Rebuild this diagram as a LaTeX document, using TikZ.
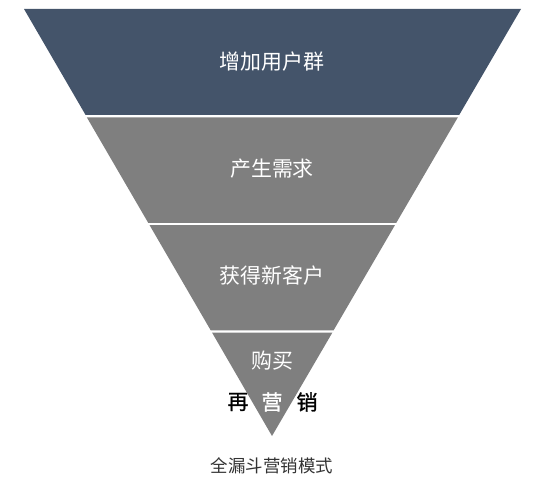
\documentclass[tikz,border=0pt]{standalone}
\usepackage{fontspec}
\newfontfamily\cjk{Noto Sans CJK SC}
\newfontfamily\cjkm{Noto Sans CJK SC}[FakeBold=1.2]
\definecolor{navy}{HTML}{44546A}
\definecolor{funnelgray}{HTML}{7F7F7F}
\definecolor{captiongray}{HTML}{333333}
\begin{document}
\begin{tikzpicture}[x=1bp,y=-1bp,
  band/.style={fill=funnelgray,draw=none},
  bandtext/.style={text=white,font=\cjk\fontsize{21}{25}\selectfont,inner sep=0pt},
  remk/.style={font=\cjkm\fontsize{21}{25}\selectfont,inner sep=0pt},
  caption/.style={text=captiongray,font=\cjk\fontsize{17.5}{20}\selectfont,inner sep=0pt}]
\useasboundingbox (0,0) rectangle (547,486);
% funnel corners
\coordinate (tl) at (24,9);
\coordinate (tr) at (521,9);
\coordinate (apex) at (272,436);
% bands
\fill[navy] (tl) -- (tr) -- (459.2,115) -- (85.6,115) -- cycle;
\fill[band] (86.8,117.3) -- (457.9,117.3) -- (396.3,222.8) -- (148.2,222.8) -- cycle;
\fill[band] (149.6,225.2) -- (394.9,225.2) -- (333.6,330.3) -- (210.7,330.3) -- cycle;
\fill[band] (212.1,332.7) -- (332.3,332.7) -- (apex) -- cycle;
% labels
\node[bandtext] (l1) at (272,62) {增加用户群};
\node[bandtext] (l2) at (272,169) {产生需求};
\node[bandtext] (l3) at (272,276) {获得新客户};
\node[bandtext] (l4) at (272,361) {购买};
\node[remk,text=black] (r1) at (238,402) {再};
\node[remk,text=white] (r2) at (272,402) {营};
\node[remk,text=black] (r3) at (307,402) {销};
\node[caption] (cap) at (272,466) {全漏斗营销模式};
\end{tikzpicture}
\end{document}
